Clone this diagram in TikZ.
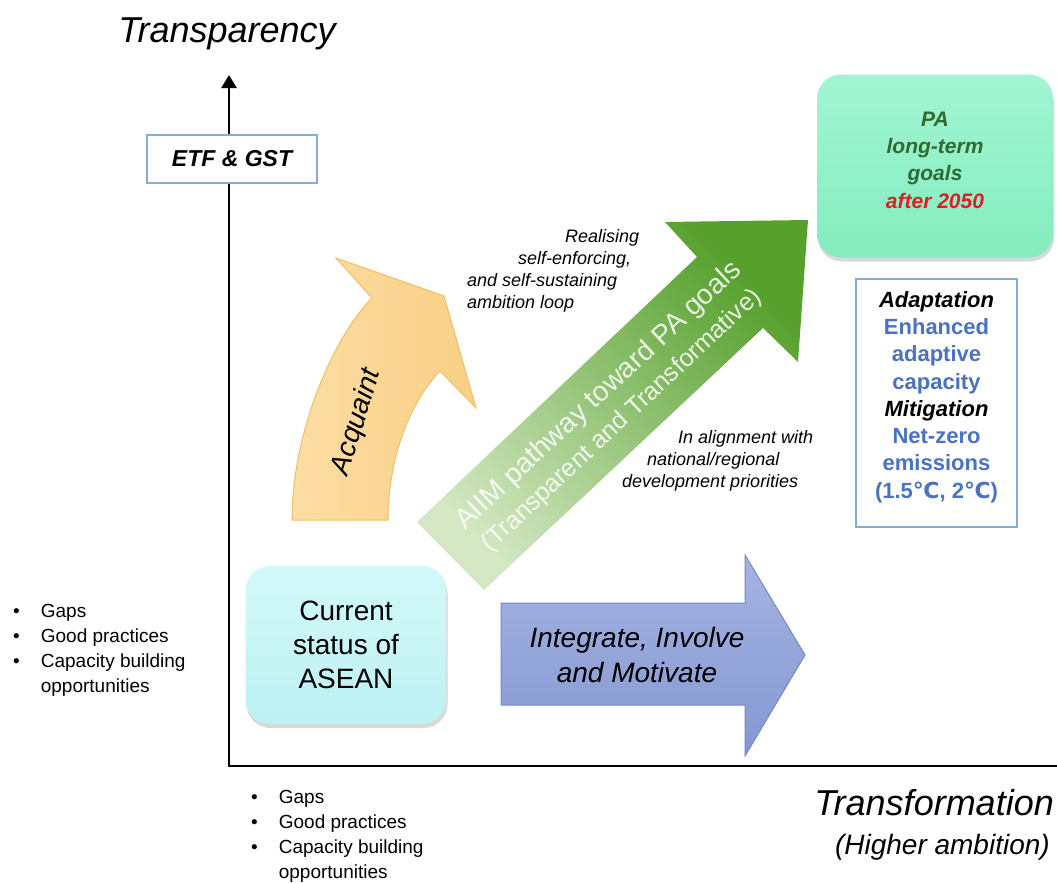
\documentclass[tikz,border=0pt]{standalone}
\usepackage{fontspec}
\setmainfont{Liberation Sans}
\newfontfamily\symfont{DejaVu Sans}
\usepackage{tikz}
\usetikzlibrary{positioning,arrows.meta,shadows}
\definecolor{acqlight}{HTML}{FCDDA4}
\definecolor{acqfill}{HTML}{F9CF85}
\definecolor{acqline}{HTML}{EFC066}
\definecolor{grlight}{HTML}{D2E7C2}
\definecolor{grdark}{HTML}{56A02C}
\definecolor{bltop}{HTML}{A5B4E2}
\definecolor{blbot}{HTML}{8497D2}
\definecolor{blline}{HTML}{7089C8}
\definecolor{cyantop}{HTML}{D3F9F9}
\definecolor{cyanbot}{HTML}{BDF1F2}
\definecolor{minttop}{HTML}{A2F5D3}
\definecolor{mintbot}{HTML}{84EDBF}
\definecolor{boxblue}{HTML}{86ABD6}
\definecolor{txtblue}{HTML}{4A72C2}
\definecolor{pagreen}{HTML}{2F6B32}
\definecolor{pared}{HTML}{E31B23}
\newcommand{\fs}[2]{\fontsize{#1}{#2}\selectfont}
\newcommand{\degc}{{\symfont\bfseries ℃}}
\newcommand{\gaplist}{\begin{tabular}{@{}l@{\hspace{21pt}}l@{}}
	•&Gaps\\ •&Good practices\\ •&Capacity building\\ &opportunities\end{tabular}}

\begin{document}
\begin{tikzpicture}[x=1pt,y=-1pt,
	ax/.style={line width=2.6pt},
	axtitle/.style={inner sep=0pt, font=\fs{36}{40}\itshape},
	linebox/.style={draw=boxblue, line width=1.6pt, fill=white},
	softbox/.style={rounded corners=24pt, drop shadow={shadow xshift=1pt, shadow yshift=-4pt, opacity=.3}},
	note/.style={inner sep=0pt, align=left, font=\fs{18}{22}\itshape},
	bullets/.style={inner sep=0pt, font=\fs{19}{25}},
]
	\useasboundingbox (0,0) rectangle (1057,883);

	% axes
	\coordinate (o)    at (229,766);
	\coordinate (ytop) at (229,75);
	\coordinate (xend) at (1057,766);
	\draw[ax, {Triangle[width=15pt,length=13pt]}-] (ytop) -- (o) -- (xend);
	\node (ytit) [axtitle, anchor=base] at (227,43) {Transparency};
	\node (xtit) [axtitle, anchor=east] at (1054,803) {Transformation};
	\node (xsub) [axtitle, font=\fs{28}{32}\itshape, below left=18pt and 4pt of xtit.south east] {(Higher ambition)};
	\node (etf) [linebox, minimum width=170pt, minimum height=48pt, font=\fs{23}{26}\bfseries\itshape] at (232,159) {ETF \& GST};

	% block arrows
	\shade[left color=acqlight, right color=acqfill, draw=acqline, line width=1pt]
		(292,520) -- (388,520) .. controls (388,455) and (412,400) .. (440,371)
		-- (476,408) -- (444,296) -- (336,258) -- (372,298)
		.. controls (335,335) and (292,430) .. (292,520) -- cycle;
	\shade[bottom color=grlight, top color=grdark, shading angle=-45]
		(417,522) -- (697,257) -- (665,222) -- (808,220) -- (798,362) -- (763,328) -- (484,590) -- cycle;
	\shade[top color=bltop, bottom color=blbot, draw=blline, line width=1pt]
		(501,603) -- (745,603) -- (745,555) -- (805,655) -- (745,756) -- (745,705) -- (501,705) -- cycle;
	\node (acq) [rotate=73, font=\fs{28}{32}\itshape] at (357,422) {Acquaint};
	\node (aiim) [rotate=43, text=white, text opacity=.85, align=center, font=\fs{25}{33}] at (610,408)
		{{\fs{28}{33}AIIM pathway toward PA goals}\\(Transparent and Transformative)};
	\node (iim) [align=center, font=\fs{28}{35}\itshape] at (637,655) {Integrate, Involve\\and Motivate};

	% notes
	\node (real) [note, anchor=west] at (467,271)
		{\hspace*{98pt}Realising\\\hspace*{51pt}self-enforcing,\\and self-sustaining\\ambition loop};
	\node (prio) [note, anchor=west] at (622,461)
		{\hspace*{56pt}In alignment with\\\hspace*{25pt}national/regional\\development priorities};

	% boxes
	\node (cur) [softbox, top color=cyantop, bottom color=cyanbot, minimum width=201pt, minimum height=158pt,
		align=center, font=\fs{28}{34}] at (346,645) {Current\\status of\\ASEAN};
	\node (pa) [softbox, top color=minttop, bottom color=mintbot, minimum width=236pt, minimum height=183pt] at (935,166) {};
	\node (pat) [align=center, text=pagreen, font=\fs{21}{27.3}\bfseries\itshape] at ([yshift=6pt]pa.center)
		{PA\\long-term\\goals\\\textcolor{pared}{after 2050}};
	\node (ad) [linebox, minimum width=161pt, minimum height=248pt] at (936.5,403) {};
	\node (adt) [align=center, text=txtblue, font=\fs{22}{27.3}\bfseries] at ([yshift=6pt]ad.center)
		{{\itshape\color{black}Adaptation}\\Enhanced\\adaptive\\capacity\\{\itshape\color{black}Mitigation}\\Net-zero\\emissions\\(1.5\degc, 2\degc)};

	% bullet lists
	\node (lgaps) [bullets, anchor=west] at (13,650) {\gaplist};
	\node (bgaps) [bullets, anchor=west] at (251,836) {\gaplist};
\end{tikzpicture}
\end{document}
